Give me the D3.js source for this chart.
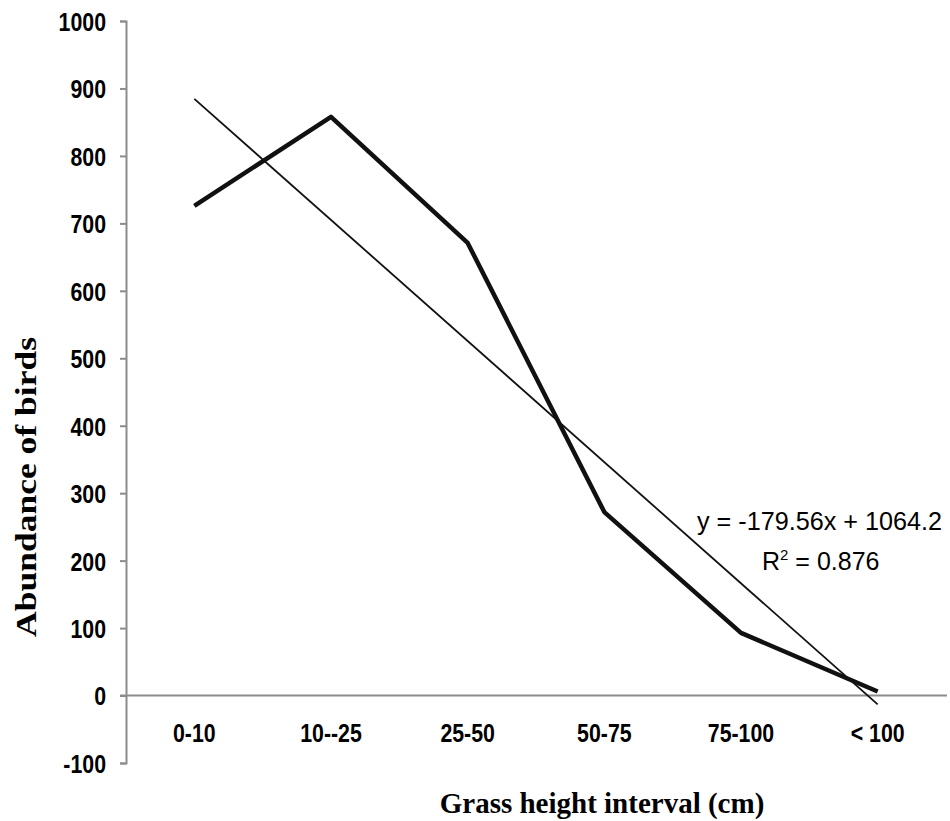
<!DOCTYPE html>
<html>
<head>
<meta charset="utf-8">
<script src="https://cdn.jsdelivr.net/npm/d3@7"></script>
<style>
  body { margin: 0; background: #fff; }
  .tick-label { font-family: "Liberation Sans Narrow", "Arial Narrow", "Liberation Sans", sans-serif; font-weight: bold; font-size: 26px; fill: #000; }
  .axis-title { font-family: "Liberation Serif", "Times New Roman", serif; font-weight: bold; font-size: 29px; fill: #000; }
  .eq { font-family: "Liberation Sans Narrow", "Arial Narrow", "Liberation Sans", sans-serif; font-size: 25px; fill: #000; }
</style>
</head>
<body>
<div class="canvas"></div>
<script>
const categories = ["0-10", "10--25", "25-50", "50-75", "75-100", "< 100"];
const abundance = [726, 858, 671, 272, 93, 6];
const yTicks = [-100, 0, 100, 200, 300, 400, 500, 600, 700, 800, 900, 1000];
const trend = { slope: -179.56, intercept: 1064.2, r2: 0.876 };

const dims = { width: 950, height: 821 };
const plot = { left: 126, right: 946, top: 21, bottom: 763 };
// narrow the bold sans labels (Arial Narrow look)
const squeeze = 0.82;

const svg = d3
    .select(".canvas")
    .append("svg")
    .attr("width", dims.width)
    .attr("height", dims.height);

const x = d3.scaleBand().domain(categories).range([plot.left, plot.right]).padding(0);
const y = d3.scaleLinear().domain([-100, 1000]).range([plot.bottom, plot.top]);
const cx = (c) => x(c) + x.bandwidth() / 2;

// y axis
const yAxis = svg
    .append("g")
    .attr("transform", `translate(${plot.left},0)`)
    .call(
        d3.axisLeft(y)
            .tickValues(yTicks)
            .tickFormat((d) => String(d))
            .tickSize(6)
            .tickSizeOuter(6)
            .tickPadding(14)
    );
yAxis.attr("font-size", null).attr("font-family", null);
yAxis.select(".domain").attr("stroke", "#8c8c8c").attr("stroke-width", 2);
yAxis.selectAll(".tick line").attr("stroke", "#8c8c8c").attr("stroke-width", 2);
yAxis.selectAll(".tick text")
    .attr("class", "tick-label")
    .attr("x", -20 / squeeze)
    .attr("dy", "0.36em")
    .attr("transform", `scale(${squeeze},1)`);

// zero line with category labels
const xAxis = svg
    .append("g")
    .attr("transform", `translate(0,${y(0)})`)
    .call(d3.axisBottom(x).tickSize(0).tickPadding(37));
xAxis.attr("font-size", null).attr("font-family", null);
xAxis.select(".domain").remove();
xAxis.append("line")
    .attr("x1", plot.left - 6)
    .attr("x2", plot.right + 1)
    .attr("stroke", "#8c8c8c")
    .attr("stroke-width", 2);
xAxis.selectAll(".tick text")
    .attr("class", "tick-label")
    .attr("dy", "0.36em")
    .attr("transform", `scale(${squeeze},1)`);

// data line
const line = d3
    .line()
    .x((d, i) => cx(categories[i]))
    .y((d) => y(d));

svg.append("path")
    .datum(abundance)
    .attr("d", line)
    .attr("fill", "none")
    .attr("stroke", "#111")
    .attr("stroke-width", 4.5)
    .attr("stroke-linejoin", "round");

// linear trendline
const trendVals = [1, categories.length].map((n) => trend.slope * n + trend.intercept);
svg.append("line")
    .attr("x1", cx(categories[0]))
    .attr("y1", y(trendVals[0]))
    .attr("x2", cx(categories[categories.length - 1]))
    .attr("y2", y(trendVals[1]))
    .attr("stroke", "#111")
    .attr("stroke-width", 1.8);

// equation label
svg.append("text")
    .attr("class", "eq")
    .attr("x", 697)
    .attr("y", 530)
    .attr("textLength", 245)
    .attr("lengthAdjust", "spacingAndGlyphs")
    .text(`y = ${trend.slope}x + ${trend.intercept}`);
const r2 = svg.append("text")
    .attr("class", "eq")
    .attr("x", 762)
    .attr("y", 570);
r2.append("tspan").text("R");
r2.append("tspan").attr("font-size", 15).attr("dy", -10).text("2");
r2.append("tspan").attr("dy", 10).text(` = ${trend.r2}`);

// axis titles
svg.append("text")
    .attr("class", "axis-title")
    .attr("transform", `translate(36,487) rotate(-90)`)
    .attr("text-anchor", "middle")
    .attr("textLength", 300)
    .attr("lengthAdjust", "spacingAndGlyphs")
    .text("Abundance of birds");

svg.append("text")
    .attr("class", "axis-title")
    .attr("x", 602)
    .attr("y", 813)
    .attr("text-anchor", "middle")
    .text("Grass height interval (cm)");
</script>
</body>
</html>
